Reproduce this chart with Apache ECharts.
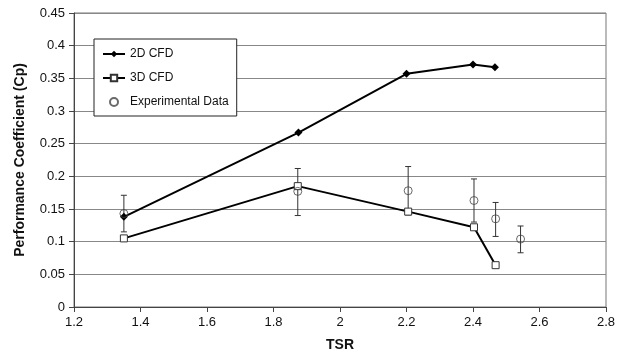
<!DOCTYPE html>
<html>
<head>
<meta charset="utf-8">
<script src="https://cdn.jsdelivr.net/npm/echarts@6/dist/echarts.min.js"></script>
<style>
  html, body { margin: 0; padding: 0; background: #fff; }
  #chart { width: 625px; height: 361px; }
</style>
</head>
<body>
<div id="chart"></div>
<script>
const cfd2dTsr = [1.35, 1.875, 2.2, 2.4, 2.466]
const cfd2dCp = [0.138, 0.267, 0.357, 0.371, 0.367]

const cfd3dTsr = [1.35, 1.873, 2.205, 2.403, 2.468]
const cfd3dCp = [0.105, 0.185, 0.146, 0.122, 0.064]

const expTsr = [1.35, 1.873, 2.205, 2.403, 2.468, 2.543]
const expCp = [0.143, 0.177, 0.178, 0.163, 0.135, 0.104]
const expLow = [0.115, 0.140, 0.141, 0.130, 0.108, 0.083]
const expHigh = [0.171, 0.212, 0.215, 0.196, 0.160, 0.124]

const font = 'Liberation Sans, Arial, sans-serif'

const chart = echarts.init(document.getElementById('chart'))

const option = {
  backgroundColor: '#fff',
  animation: false,
  grid: {
    left: 74,
    right: 19,
    top: 13,
    bottom: 54,
    show: true,
    borderColor: '#777',
    borderWidth: 1,
  },
  legend: {
    orient: 'vertical',
    left: 94,
    top: 39,
    padding: [9, 8, 8, 8],
    itemGap: 12,
    itemWidth: 22,
    itemHeight: 8,
    backgroundColor: '#fff',
    borderColor: '#222',
    borderWidth: 1,
    textStyle: {
      fontFamily: font,
      fontSize: 12,
      color: '#111',
    },
    data: ['2D CFD', '3D CFD', 'Experimental Data'],
  },
  xAxis: {
    type: 'value',
    min: 1.2,
    max: 2.8,
    interval: 0.2,
    name: 'TSR',
    nameLocation: 'middle',
    nameGap: 31,
    nameTextStyle: {
      fontFamily: font,
      fontSize: 14,
      fontWeight: 'bold',
      color: '#111',
    },
    axisLine: { lineStyle: { color: '#444', width: 1 } },
    axisTick: { show: true, length: 5, lineStyle: { color: '#444' } },
    axisLabel: {
      fontFamily: font,
      fontSize: 13,
      color: '#111',
      margin: 9,
    },
    splitLine: { show: false },
  },
  yAxis: {
    type: 'value',
    min: 0,
    max: 0.45,
    interval: 0.05,
    name: 'Performance Coefficient (Cp)',
    nameLocation: 'middle',
    nameGap: 47,
    nameTextStyle: {
      fontFamily: font,
      fontSize: 14,
      fontWeight: 'bold',
      color: '#111',
    },
    axisLine: { show: true, lineStyle: { color: '#444', width: 1 } },
    axisTick: { show: true, length: 5, lineStyle: { color: '#444' } },
    axisLabel: {
      fontFamily: font,
      fontSize: 13,
      color: '#111',
      margin: 9,
    },
    splitLine: { show: true, lineStyle: { color: '#888', width: 1 } },
  },
  series: [
    {
      name: '2D CFD',
      type: 'line',
      data: cfd2dTsr.map((x, i) => [x, cfd2dCp[i]]),
      symbol: 'diamond',
      symbolSize: 8,
      itemStyle: { color: '#000' },
      lineStyle: { color: '#000', width: 2 },
      z: 4,
    },
    {
      name: '3D CFD',
      type: 'line',
      data: cfd3dTsr.map((x, i) => [x, cfd3dCp[i]]),
      symbol: 'rect',
      symbolSize: 7,
      itemStyle: { color: '#fff', borderColor: '#333', borderWidth: 1 },
      lineStyle: { color: '#000', width: 2 },
      z: 4,
    },
    {
      name: 'Experimental Data',
      type: 'scatter',
      data: expTsr.map((x, i) => [x, expCp[i]]),
      symbol: 'circle',
      symbolSize: 8,
      itemStyle: { color: 'rgba(255,255,255,0)', borderColor: '#444', borderWidth: 1 },
      z: 5,
    },
    {
      name: 'errors',
      type: 'custom',
      data: expTsr.map((x, i) => [x, expLow[i], expHigh[i]]),
      renderItem(params, api) {
        const lo = api.coord([api.value(0), api.value(1)])
        const hi = api.coord([api.value(0), api.value(2)])
        const w = 3
        const style = { stroke: '#333', lineWidth: 1 }
        return {
          type: 'group',
          children: [
            { type: 'line', shape: { x1: hi[0], y1: hi[1], x2: lo[0], y2: lo[1] }, style },
            { type: 'line', shape: { x1: hi[0] - w, y1: hi[1], x2: hi[0] + w, y2: hi[1] }, style },
            { type: 'line', shape: { x1: lo[0] - w, y1: lo[1], x2: lo[0] + w, y2: lo[1] }, style },
          ],
        }
      },
      z: 3,
    },
  ],
}

chart.setOption(option)
</script>
</body>
</html>
